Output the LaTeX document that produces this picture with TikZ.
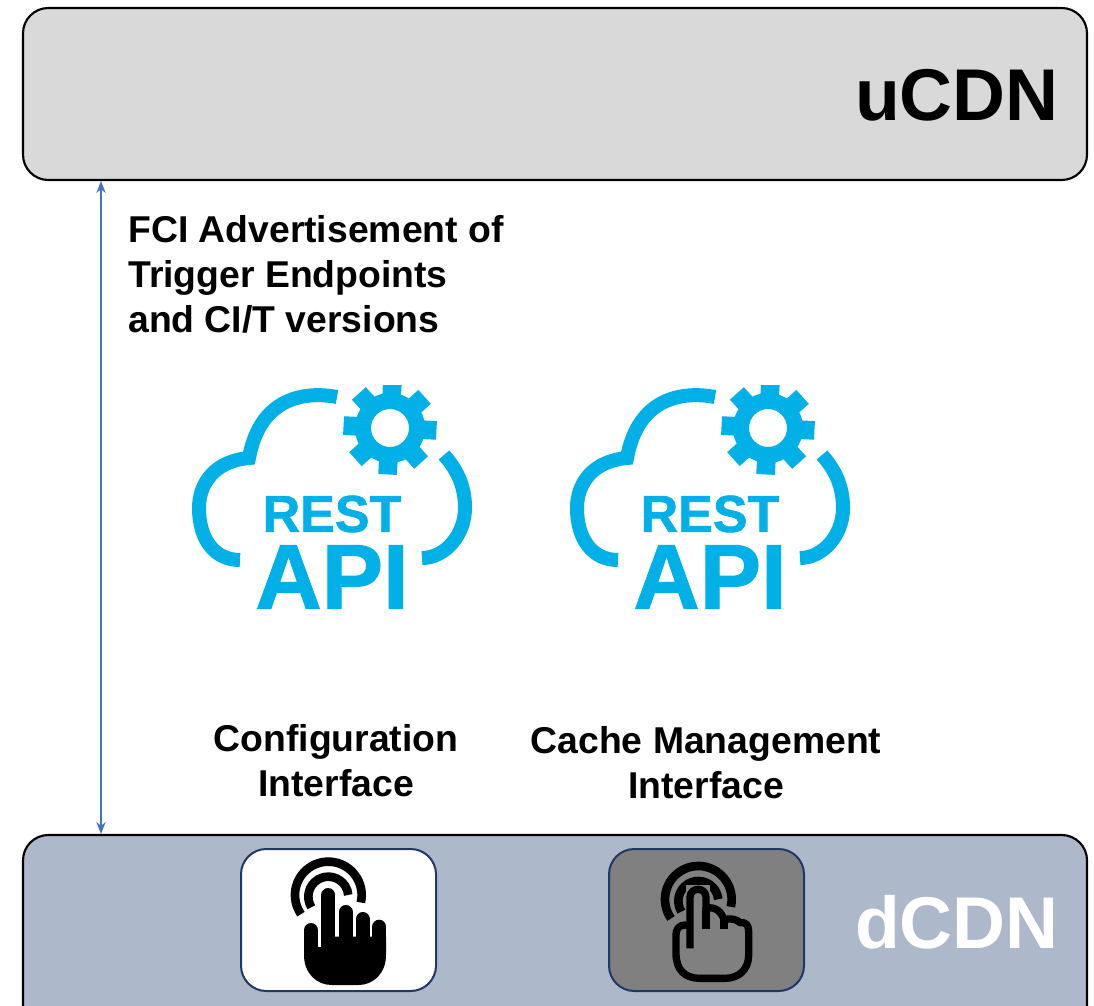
\documentclass[tikz,border=0pt]{standalone}
\usepackage{fontspec}
\setmainfont{Liberation Sans}
\newfontfamily\logofont[FakeBold=1.2]{Liberation Sans Bold}
\usetikzlibrary{positioning, arrows.meta}
\definecolor{CDNGray}{RGB}{217,217,217}
\definecolor{CDNSlate}{RGB}{173,185,202}
\definecolor{RESTBlue}{RGB}{0,176,230}
\definecolor{BtnEdge}{RGB}{31,56,100}
\definecolor{ArrowBlue}{RGB}{68,114,196}
\newcommand{\touchrings}[1]{
    \draw[line width=6.5pt] (295,#1) ++(-215:100) arc[start angle=-215, end angle=13, radius=100];
    \draw[line width=6.5pt] (295,#1+5) ++(-212:60) arc[start angle=-212, end angle=-5, radius=60];
}
\tikzset{
    cdnbox/.style={
        draw=black, line width=1.6pt, rounded corners=19pt
    },
    btnbox/.style={
        draw=BtnEdge, line width=1.5pt, rounded corners=19pt
    },
    cdnlabel/.style={
        font=\bfseries\fontsize{55}{60}\selectfont, anchor=east, inner sep=0pt
    },
    itflabel/.style={
        font=\bfseries\fontsize{28}{33.75}\selectfont, align=center, inner sep=0pt
    },
    cloudline/.style={
        draw=RESTBlue, line width=10.5pt
    },
    fingerline/.style={
        line width=10.5pt, line cap=round, black
    },
    % REST API logo, origin at its upper left corner
    restlogo/.pic={
        \draw[cloudline] (157,22) .. controls (125,16) and (80,22) .. (69,83)
            .. controls (35,86) and (19,108) .. (19,133)
            .. controls (19,165) and (35,185) .. (60,185);
        \draw[cloudline] (264,80) .. controls (280,98) and (285,115) .. (285,133)
            .. controls (285,160) and (265,183) .. (242,183);
        \begin{scope}
            \clip (150,10) rectangle (270,110);
            \foreach \a in {3,48,...,318}
                \draw[RESTBlue, line width=14pt] (210,53) ++(\a:30) -- ++(\a:16.5);
            \fill[RESTBlue, even odd rule] (210,53) circle (35) (210,53) circle (19);
        \end{scope}
        \node[font=\logofont\fontsize{39}{39}\selectfont, text=RESTBlue, inner sep=0pt] (-rest) at (152,139) {REST};
        \node[font=\logofont\fontsize{69}{69}\selectfont, text=RESTBlue, inner sep=0pt] (-api) at (152,202) {API};
    }
}
\begin{document}
\begin{tikzpicture}[x=0.75pt, y=-0.75pt]
    \clip (0,0) rectangle (1094,1005);
    \useasboundingbox (0,0) rectangle (1094,1005);

    % CDN boxes
    \path[cdnbox, fill=CDNGray] (23,8) rectangle (1087,180);
    \path[cdnbox, fill=CDNSlate] (23,835) rectangle (1087,1040);
    \node[cdnlabel] (ucdn) at (1059,95) {uCDN};
    \node[cdnlabel, text=white] (dcdn) at (1059,922) {dCDN};

    % FCI arrow
    \coordinate (fcitop) at (101,181);
    \coordinate (fcibottom) at (101,834);
    \draw[{Stealth[length=9pt,width=7pt]}-{Stealth[length=9pt,width=7pt]}, ArrowBlue, line width=1.1pt] (fcitop) -- (fcibottom);
    \node[itflabel, align=left, anchor=north west] (fci) at (128,215) {FCI Advertisement of\\Trigger Endpoints\\and CI/T versions};

    % logos
    \pic (cfglogo) at (180,375) {restlogo};
    \pic (cachelogo) at (558,375) {restlogo};

    \node[itflabel] (cfgitf) at (336,761) {Configuration\\Interface};
    \node[itflabel] (cacheitf) at (706,763) {Cache Management\\Interface};

    % buttons
    \path[btnbox, fill=white] (241,849) rectangle (436,991);
    \path[btnbox, fill=black!50] (609,849) rectangle (804,991);

    % filled hand
    \begin{scope}[shift={(230,840)}, scale=1/3]
        \touchrings{165}
        \draw[white, line width=7pt] (269,240) -- (269,165);
        \draw[fingerline] (295,165) -- (295,300);
        \draw[fingerline] (347,216) -- (347,300);
        \draw[fingerline] (398,237) -- (398,300);
        \draw[fingerline] (448,260) -- (448,300);
        \draw[fingerline] (243,270) -- (243,340);
        \fill (222,290) -- (468,290) -- (468,345) .. controls (468,400) and (430,435) .. (385,435)
            -- (305,435) .. controls (260,435) and (222,400) .. (222,345) -- cycle;
        \draw[white, line width=2pt] (269,240) -- (269,322);
        \draw[white, line width=1.5pt] (322,200) -- (322,262);
        \draw[white, line width=1.5pt] (372,225) -- (372,262);
        \draw[white, line width=1.5pt] (423,245) -- (423,262);
    \end{scope}

    % outlined hand
    \begin{scope}[shift={(600,840)}, scale=1/3]
        \touchrings{178}
        \fill[black!50] (258,135) rectangle (330,250);
        \draw[line width=5.5pt, line join=round, fill=black!50] (270,325) -- (270,172)
            .. controls (270,140) and (318,140) .. (318,172) -- (318,205)
            .. controls (345,198) and (365,215) .. (372,240)
            .. controls (395,232) and (412,240) .. (420,248)
            .. controls (440,245) and (446,258) .. (446,275) -- (446,345)
            .. controls (446,390) and (415,415) .. (375,415) -- (300,415)
            .. controls (255,415) and (228,390) .. (228,340) -- (228,285)
            .. controls (228,255) and (255,250) .. (270,258);
        \draw[line width=5.5pt] (318,200) -- (318,268);
        \draw[line width=5.5pt] (372,238) -- (372,268);
    \end{scope}
\end{tikzpicture}
\end{document}
